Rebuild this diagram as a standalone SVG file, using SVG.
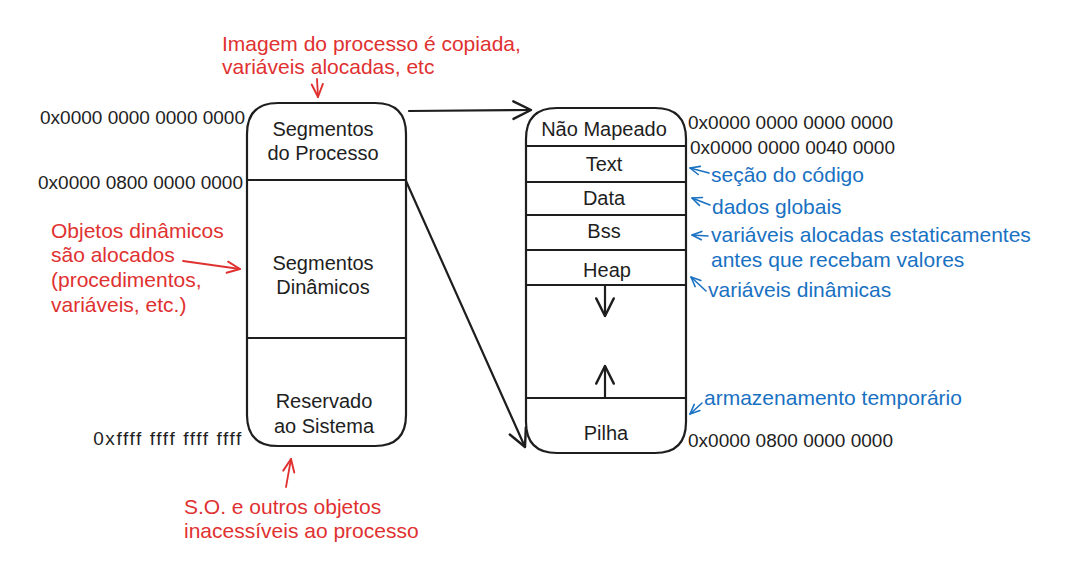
<svg xmlns="http://www.w3.org/2000/svg" width="1083" height="572" viewBox="0 0 1083 572">
<style>
  .box{fill:#ffffff;stroke:#1e1e1e;stroke-width:2.2;stroke-linejoin:round}
  .div{stroke:#1e1e1e;stroke-width:2.2;fill:none}
  .lbl{font-family:"Liberation Sans",Arial,sans-serif;font-size:20px;fill:#1e1e1e;text-anchor:middle;dominant-baseline:central}
  .addr{font-family:"Liberation Sans",Arial,sans-serif;font-size:19px;fill:#1e1e1e;dominant-baseline:central}
  .red{font-family:"Liberation Sans",Arial,sans-serif;font-size:21px;fill:#e03131;dominant-baseline:central}
  .blue{font-family:"Liberation Sans",Arial,sans-serif;font-size:21px;fill:#1971c2;dominant-baseline:central}
  .ck{stroke:#1e1e1e;stroke-width:2.2;fill:none;stroke-linecap:round}
  .cr{stroke:#e03131;stroke-width:1.8;fill:none;stroke-linecap:round}
  .cb{stroke:#1971c2;stroke-width:1.6;fill:none;stroke-linecap:round}
</style>
<defs>
  <marker id="ak" viewBox="0 0 20 20" refX="18" refY="10" markerWidth="22" markerHeight="22" markerUnits="userSpaceOnUse" orient="auto">
    <path d="M2,2 L18,10 L2,18" fill="none" stroke="#1e1e1e" stroke-width="2.2" stroke-linecap="round" stroke-linejoin="round"/>
  </marker>
  <marker id="ar" viewBox="0 0 20 20" refX="18" refY="10" markerWidth="16" markerHeight="16" markerUnits="userSpaceOnUse" orient="auto">
    <path d="M2,3 L18,10 L2,17" fill="none" stroke="#e03131" stroke-width="2.4" stroke-linecap="round" stroke-linejoin="round"/>
  </marker>
  <marker id="ab" viewBox="0 0 20 20" refX="18" refY="10" markerWidth="12" markerHeight="12" markerUnits="userSpaceOnUse" orient="auto">
    <path d="M2,3 L18,10 L2,17" fill="none" stroke="#1971c2" stroke-width="2.6" stroke-linecap="round" stroke-linejoin="round"/>
  </marker>
</defs>
<rect width="1083" height="572" fill="#ffffff"/>

<g id="left-memory">
  <path class="box" d="M278,103 H375 Q406,103 406,134 V415 Q406,446 375,446 H278 Q247,446 247,415 V134 Q247,103 278,103 Z"/>
  <line class="div" x1="247" y1="180" x2="406" y2="180"/>
  <line class="div" x1="247" y1="338" x2="406" y2="338"/>
  <text class="lbl" x="323" y="129">Segmentos</text>
  <text class="lbl" x="323" y="153">do Processo</text>
  <text class="lbl" x="323" y="263">Segmentos</text>
  <text class="lbl" x="323" y="287">Dinâmicos</text>
  <text class="lbl" x="324" y="401">Reservado</text>
  <text class="lbl" x="324" y="426">ao Sistema</text>
</g>

<g id="right-memory">
  <path class="box" d="M557,108 H655 Q686,108 686,139 V422 Q686,453 655,453 H557 Q526,453 526,422 V139 Q526,108 557,108 Z"/>
  <line class="div" x1="526" y1="146" x2="686" y2="146"/>
  <line class="div" x1="526" y1="182" x2="686" y2="182"/>
  <line class="div" x1="526" y1="215" x2="686" y2="215"/>
  <line class="div" x1="526" y1="250" x2="686" y2="250"/>
  <line class="div" x1="526" y1="285" x2="686" y2="285"/>
  <line class="div" x1="526" y1="398" x2="686" y2="398"/>
  <text class="lbl" x="604" y="129">Não Mapeado</text>
  <text class="lbl" x="604" y="164">Text</text>
  <text class="lbl" x="604" y="198">Data</text>
  <text class="lbl" x="604" y="231">Bss</text>
  <text class="lbl" x="607" y="270">Heap</text>
  <text class="lbl" x="606" y="433">Pilha</text>
</g>

<g id="addresses">
  <text class="addr" x="245" y="117" text-anchor="end">0x0000 0000 0000 0000</text>
  <text class="addr" x="243" y="182" text-anchor="end">0x0000 0800 0000 0000</text>
  <text class="addr" x="243" y="438" text-anchor="end" letter-spacing="1.6">0xffff ffff ffff ffff</text>
  <text class="addr" x="688" y="122">0x0000 0000 0000 0000</text>
  <text class="addr" x="690" y="147">0x0000 0000 0040 0000</text>
  <text class="addr" x="688" y="440">0x0000 0800 0000 0000</text>
</g>

<g id="annotations-red">
  <text class="red" x="222" y="43">Imagem do processo é copiada,</text>
  <text class="red" x="222" y="66">variáveis alocadas, etc</text>
  <text class="red" x="51" y="230">Objetos dinâmicos</text>
  <text class="red" x="51" y="254">são alocados</text>
  <text class="red" x="51" y="279">(procedimentos,</text>
  <text class="red" x="51" y="304">variáveis, etc.)</text>
  <text class="red" x="184" y="506">S.O. e outros objetos</text>
  <text class="red" x="184" y="530">inacessíveis ao processo</text>
</g>

<g id="annotations-blue">
  <text class="blue" x="711" y="174">seção do código</text>
  <text class="blue" x="712" y="206">dados globais</text>
  <text class="blue" x="711" y="234">variáveis alocadas estaticamentes</text>
  <text class="blue" x="711" y="259">antes que recebam valores</text>
  <text class="blue" x="708" y="289">variáveis dinâmicas</text>
  <text class="blue" x="704" y="397">armazenamento temporário</text>
</g>

<g id="connectors">
  <line class="ck" x1="409" y1="111" x2="531" y2="110" marker-end="url(#ak)"/>
  <line class="ck" x1="406" y1="181" x2="525" y2="447" marker-end="url(#ak)"/>
  <line class="ck" x1="605" y1="285" x2="605" y2="316" marker-end="url(#ak)"/>
  <line class="ck" x1="605" y1="398" x2="605" y2="366" marker-end="url(#ak)"/>
  <line class="cr" x1="317" y1="79" x2="318" y2="97" marker-end="url(#ar)"/>
  <line class="cr" x1="183" y1="261" x2="240" y2="269" marker-end="url(#ar)"/>
  <line class="cr" x1="286" y1="487" x2="291" y2="459" marker-end="url(#ar)"/>
  <line class="cb" x1="709" y1="173" x2="690" y2="168" marker-end="url(#ab)"/>
  <line class="cb" x1="710" y1="205" x2="692" y2="198" marker-end="url(#ab)"/>
  <line class="cb" x1="708" y1="236" x2="692" y2="235" marker-end="url(#ab)"/>
  <line class="cb" x1="706" y1="291" x2="691" y2="277" marker-end="url(#ab)"/>
  <line class="cb" x1="702" y1="403" x2="690" y2="414" marker-end="url(#ab)"/>
</g>
</svg>
